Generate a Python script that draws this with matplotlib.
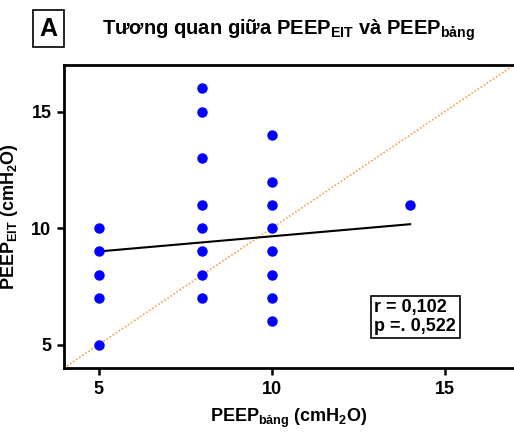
import numpy as np
import matplotlib.pyplot as plt

plt.rcParams['font.family'] = ['Liberation Sans', 'DejaVu Sans']
plt.rcParams['font.weight'] = 'bold'
plt.rcParams['mathtext.fontset'] = 'custom'
plt.rcParams['mathtext.rm'] = 'Liberation Sans:bold'
plt.rcParams['mathtext.it'] = 'Liberation Sans:bold'
plt.rcParams['mathtext.bf'] = 'Liberation Sans:bold'

# data
peep_bang = [5, 5, 5, 5, 5,
             8, 8, 8, 8, 8, 8, 8, 8,
             10, 10, 10, 10, 10, 10, 10, 10,
             14]
peep_eit = [10, 9, 8, 7, 5,
            16, 15, 13, 11, 10, 9, 8, 7,
            14, 12, 11, 10, 9, 8, 7, 6,
            11]
fit_x = [5, 14]
fit_y = [9.0, 10.17]
r_text = "r = 0,102\np =. 0,522"

fig = plt.figure(figsize=(5.14, 4.33), dpi=100)
ax = fig.add_axes([64 / 514, 1 - 368 / 433, 450 / 514, 303 / 433])

ax.plot([4, 17], [4, 17], color='#f5a04a', linestyle=(0, (1, 1.2)), lw=1.2, zorder=1)
ax.plot(fit_x, fit_y, color='black', lw=1.5, zorder=2)
ax.plot(peep_bang, peep_eit, 'o', color='#0000ff', markersize=6.5, zorder=3,
        clip_on=False)

ax.set_xlim(4, 17)
ax.set_ylim(4, 17)
ax.set_xticks([5, 10, 15])
ax.set_yticks([5, 10, 15])
ax.tick_params(direction='out', length=5, width=1.8, labelsize=13, pad=4)
for lab in ax.get_xticklabels() + ax.get_yticklabels():
    lab.set_fontweight('bold')
for side in ['left', 'bottom', 'top']:
    ax.spines[side].set_linewidth(2)
ax.spines['right'].set_visible(False)

ax.set_xlabel('PEEP$_{\\mathrm{bảng}}$ (cmH$_2$O)', fontsize=13, fontweight='bold', labelpad=7)
ax.set_ylabel('PEEP$_{\\mathrm{EIT}}$ (cmH$_2$O)', fontsize=13, fontweight='bold', labelpad=8)

ax.text(0.69, 0.11, r_text, transform=ax.transAxes, fontsize=13, fontweight='bold',
        va='bottom', ha='left', linespacing=1.1,
        bbox=dict(boxstyle='square,pad=0.2', fc='white', ec='black', lw=1.2))

fig.text(288 / 514, 1 - 30 / 433, 'Tương quan giữa PEEP$_{\\mathrm{EIT}}$ và PEEP$_{\\mathrm{bảng}}$',
         ha='center', va='center', fontsize=14.5, fontweight='bold')
fig.text(48.5 / 514, 1 - 28.5 / 433, 'A', ha='center', va='center', fontsize=18, fontweight='bold',
         bbox=dict(boxstyle='square,pad=0.25', fc='white', ec='black', lw=1.2))

fig.savefig('out.png', dpi=100)
